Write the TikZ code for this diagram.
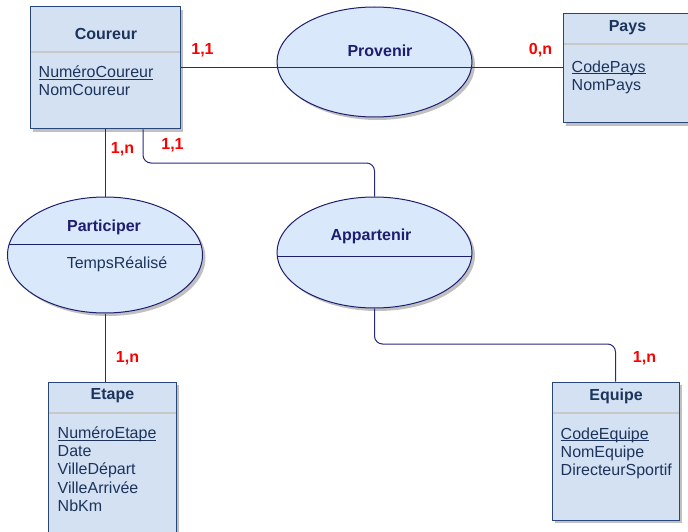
\documentclass[tikz,border=0pt]{standalone}
\usepackage{fontspec}
\setmainfont{Liberation Sans}
\usetikzlibrary{shapes.geometric, shadows}
\definecolor{boxfill}{RGB}{212,225,243}
\definecolor{boxline}{RGB}{40,70,120}
\definecolor{boxtext}{RGB}{28,52,92}
\definecolor{ovalfill}{RGB}{218,232,252}
\definecolor{ovalline}{RGB}{30,30,110}
\definecolor{linkblue}{RGB}{40,40,130}
\definecolor{cardred}{RGB}{250,0,0}
\definecolor{shade}{RGB}{192,192,192}
\definecolor{divgray}{RGB}{200,200,200}
\newcommand{\diagfont}{\fontsize{16}{18.2}\selectfont}

\tikzset{
  entity/.style={draw=boxline, fill=boxfill, line width=1pt, inner sep=0pt,
    drop shadow={shadow xshift=3pt, shadow yshift=-3pt, fill=shade, opacity=1}},
  headline/.style={path picture={\draw[divgray, line width=1.6pt]
    ([yshift=-#1]path picture bounding box.north west) -- ([yshift=-#1]path picture bounding box.north east);}},
  oval/.style={ellipse, draw=ovalline, fill=ovalfill, line width=1pt, inner sep=0pt, minimum width=195pt,
    drop shadow={shadow xshift=3pt, shadow yshift=-3pt, fill=shade, opacity=1}},
  midline/.style={path picture={\draw[ovalline, line width=1pt]
    ([yshift=#1]path picture bounding box.west) -- ([yshift=#1]path picture bounding box.east);}},
  title/.style={font=\diagfont\bfseries, text=boxtext},
  relname/.style={font=\diagfont\bfseries, text=ovalline},
  attrs/.style={align=left, text=boxtext, anchor=north west, inner sep=0pt},
  link/.style={draw=linkblue, line width=1pt, rounded corners=8pt},
  card/.style={text=cardred, font=\diagfont\bfseries},
}

\begin{document}
\begin{tikzpicture}[x=1pt, y=-1pt, font=\diagfont]
  \useasboundingbox (0,0) rectangle (688,532);

  \node[entity, minimum width=150pt, minimum height=122pt, headline=45pt] (coureur) at (105,68) {};
  \node[title] (coureur-name) at (106,34) {Coureur};
  \node[attrs] (coureur-attr) at ([xshift=9pt, yshift=-59pt]coureur.north west) {\underbar{NuméroCoureur}\\NomCoureur};

  \node[entity, minimum width=128pt, minimum height=109pt, headline=30pt] (pays) at (627,68.5) {};
  \node[title] (pays-name) at (627.5,28) {Pays};
  \node[attrs] (pays-attr) at ([xshift=9pt, yshift=-47pt]pays.north west) {\underbar{CodePays}\\NomPays};

  \node[entity, minimum width=128pt, minimum height=150pt, headline=31pt] (etape) at (112,457) {};
  \node[title] (etape-name) at (112.5,396) {Etape};
  \node[attrs] (etape-attr) at ([xshift=10pt, yshift=-45pt]etape.north west)
    {\underbar{NuméroEtape}\\Date\\VilleDépart\\VilleArrivée\\NbKm};

  \node[entity, minimum width=127pt, minimum height=138pt, headline=31pt] (equipe) at (615.5,451) {};
  \node[title] (equipe-name) at (616,396) {Equipe};
  \node[attrs] (equipe-attr) at ([xshift=9pt, yshift=-46pt]equipe.north west)
    {\underbar{CodeEquipe}\\NomEquipe\\DirecteurSportif};

  \node[oval, minimum height=110pt] (provenir) at (374.5,62) {};
  \node[relname] (provenir-name) at (380,51) {Provenir};

  \node[oval, minimum height=116pt, midline=11pt] (participer) at (105,255) {};
  \node[relname] (participer-name) at (104,227) {Participer};
  \node[text=boxtext] (participer-attr) at (117,264) {TempsRéalisé};

  \node[oval, minimum height=111pt, midline=-3.5pt] (appartenir) at (374.5,252.5) {};
  \node[relname] (appartenir-name) at (371,236) {Appartenir};

  \coordinate (bend-a) at (0,163);
  \coordinate (bend-b) at (0,344);
  \draw[link] (coureur.east) -- (coureur.east -| pays.west);
  \draw[link] (coureur.south) -- (participer.north);
  \draw[link] (participer.south) -- (participer.south |- etape.north);
  \draw[link] ([xshift=38pt]coureur.south) -- ([xshift=38pt]coureur.south |- bend-a)
    -- (appartenir.north |- bend-a) -- (appartenir.north);
  \draw[link] (appartenir.south) -- (appartenir.south |- bend-b)
    -- (equipe.north |- bend-b) -- (equipe.north);

  \node[card] (card-cp) at (202.5,50) {1,1};
  \node[card] (card-pp) at (540.5,50) {0,n};
  \node[card] (card-cpart) at (122.5,149) {1,n};
  \node[card] (card-capp) at (172.5,145) {1,1};
  \node[card] (card-pe) at (127.5,358.5) {1,n};
  \node[card] (card-ae) at (644.5,358.5) {1,n};
\end{tikzpicture}
\end{document}
